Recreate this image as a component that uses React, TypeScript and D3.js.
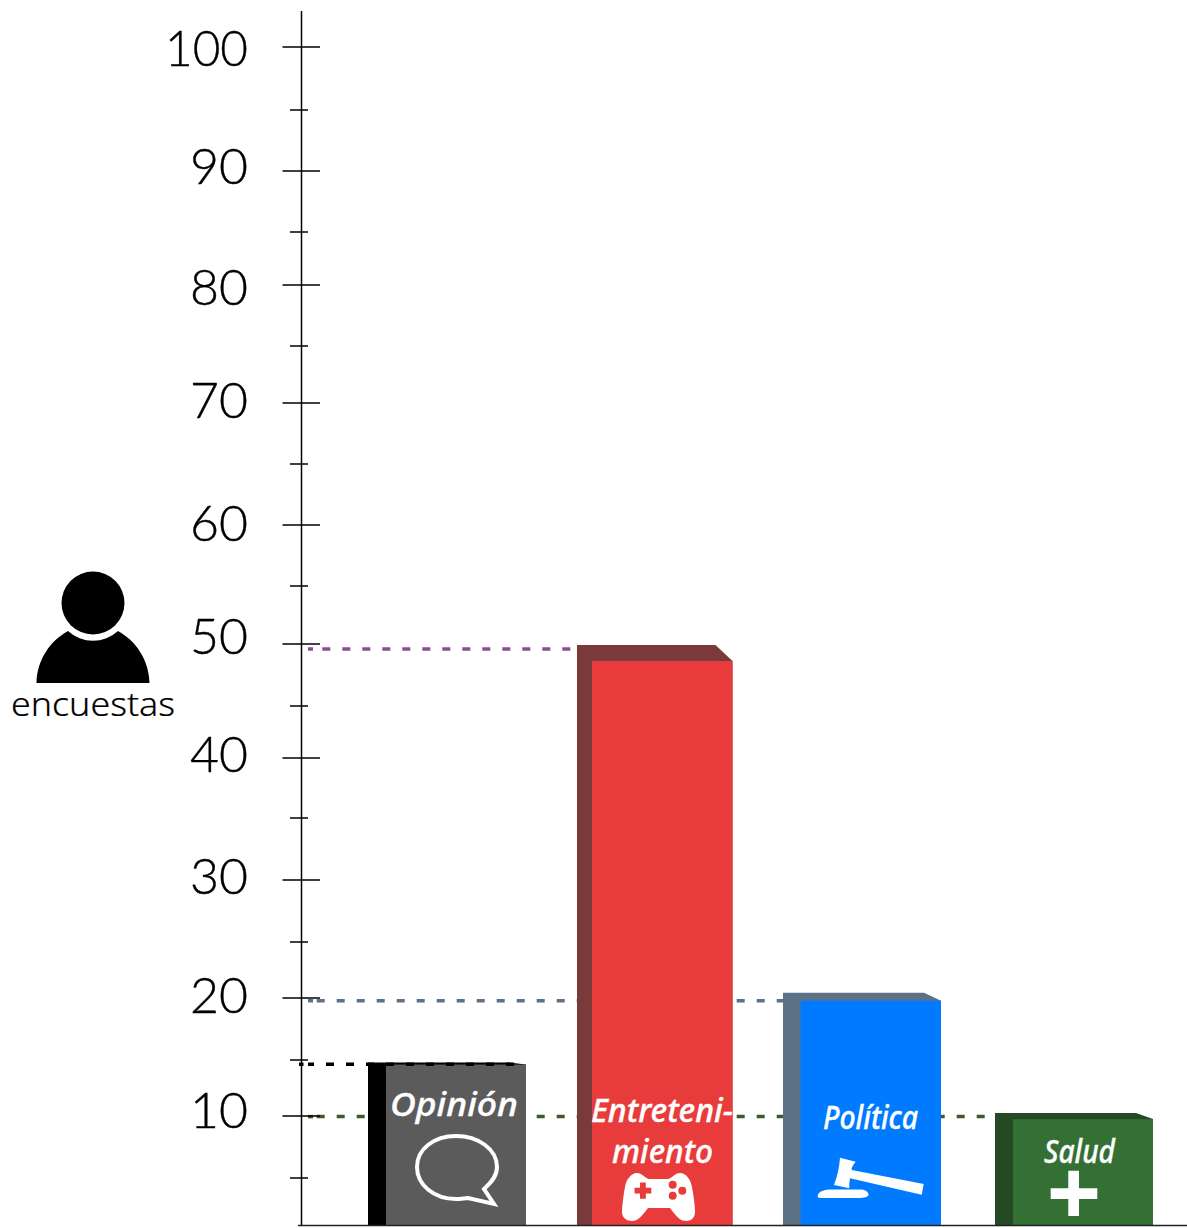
import React from "react";
import * as d3 from "d3";

const WIDTH = 1187;
const HEIGHT = 1228;

// Survey results per topic
const categories = ["Opinión", "Entretenimiento", "Política", "Salud"];
const values = [14.62, 49.6, 19.78, 9.95];
const frontColors = ["#5b5b5b", "#e83c3c", "#007bff", "#347033"];
const backColors = ["#000000", "#7a3a3a", "#5c7086", "#234a22"];
const guideColors = ["#000000", "#8e4b9b", "#5c7086", "#3f5a2a"];

// Vertical depth of each bar's extruded top, in pixels above and below the value line
const backRise = [1.7, 4, 8, 3.5];
const frontDrop = [0.3, 12, 0, 2.5];

// The hand-spaced axis: tick values and where each one falls
const tickValues = [0, 5, 10, 15, 20, 25, 30, 35, 40, 45, 50, 55, 60, 65, 70, 75, 80, 85, 90, 95, 100];
const tickPositions = [1225, 1178, 1116, 1060, 998, 942, 880, 818, 758, 706, 644, 586, 525, 464, 403, 346, 285, 232, 171, 110, 47];
const barLefts = [368, 577, 783, 995];
const frontLefts = [386, 592, 800.5, 1013];
const barRights = [526, 732.5, 941, 1153];

// Printed axis numbers and their baselines
const axisLabels = [100, 90, 80, 70, 60, 50, 40, 30, 20, 10];
const axisLabelBaselines = [66, 184, 305, 418, 541, 654, 772, 894, 1013, 1128];

// Where the repeating dash pattern of each guide begins
const dashStarts = [326, 322.3, 316.7, 316.7];

const y = d3.scaleLinear().domain(tickValues).range(tickPositions);
const xBack = d3.scaleOrdinal<string, number>().domain(categories).range(barLefts);
const xFront = d3.scaleOrdinal<string, number>().domain(categories).range(frontLefts);
const xRight = d3.scaleOrdinal<string, number>().domain(categories).range(barRights);

const AXIS_X = 301.5;
const DASH = 8;
const DASH_PERIOD = 20;
const LABEL_FONT = "'Noto Sans', 'Open Sans', sans-serif";
const TICK_FONT = "Lato, 'Open Sans', sans-serif";

function Guide({ index, x2, leadIn }: { index: number; x2: number; leadIn?: boolean }) {
  const gy = y(values[index]);
  const x1 = 308;
  const offset = ((x1 - dashStarts[index]) % DASH_PERIOD + DASH_PERIOD) % DASH_PERIOD;
  return (
    <g stroke={guideColors[index]} strokeWidth={3.5}>
      {leadIn && <line x1={299} x2={303.5} y1={gy} y2={gy} />}
      <line x1={x1} x2={x1 + 5} y1={gy} y2={gy} />
      <line
        x1={x1 + 5}
        x2={x2}
        y1={gy}
        y2={gy}
        strokeDasharray={`${DASH} ${DASH_PERIOD - DASH}`}
        strokeDashoffset={offset + 5}
      />
    </g>
  );
}

function BarLabel({ x, y: by, text, width }: { x: number; y: number; text: string; width: number }) {
  return (
    <text
      x={x}
      y={by}
      fill="#fff"
      stroke="#fff"
      strokeWidth={0.35}
      fontFamily={LABEL_FONT}
      fontStyle="italic"
      fontWeight={500}
      fontSize={32}
      textLength={width}
      lengthAdjust="spacingAndGlyphs"
    >
      {text}
    </text>
  );
}

export default function App() {
  const bottom = y(0);
  return (
    <svg
      width={WIDTH}
      height={HEIGHT}
      viewBox={`0 0 ${WIDTH} ${HEIGHT}`}
      style={{ position: "absolute", left: 0, top: 0, background: "#fff" }}
    >
      {/* Dashed guides from the axis to each bar */}
      {categories.map((c, i) =>
        i === 0 ? null : <Guide key={c} index={i} x2={xBack(c)} />
      )}

      {/* Extruded bars */}
      {categories.map((c, i) => {
        const yv = y(values[i]);
        const top = yv - backRise[i];
        const frontTop = yv + frontDrop[i];
        const bevel = xRight(c) - 17;
        return (
          <g key={c}>
            <path
              d={`M${xBack(c)},${bottom}V${top}H${bevel}L${xRight(c)},${frontTop}V${bottom}Z`}
              fill={backColors[i]}
            />
            <rect
              x={xFront(c)}
              y={frontTop}
              width={xRight(c) - xFront(c)}
              height={bottom - frontTop}
              fill={frontColors[i]}
            />
          </g>
        );
      })}

      {/* The first guide runs across the top of its bar */}
      <Guide index={0} x2={xRight(categories[0])} leadIn />

      {/* Axis */}
      <line x1={AXIS_X} x2={AXIS_X} y1={11} y2={bottom} stroke="#000" strokeWidth={1.5} />
      <line x1={298} x2={WIDTH} y1={bottom + 0.5} y2={bottom + 0.5} stroke="#222" strokeWidth={1.5} />
      {tickValues.slice(1).map((t) => {
        const major = t % 10 === 0;
        return (
          <line
            key={t}
            x1={major ? 282.5 : 290}
            x2={major ? 320 : 308}
            y1={y(t)}
            y2={y(t)}
            stroke="#000"
            strokeWidth={1.5}
          />
        );
      })}
      {axisLabels.map((t, i) => (
        <text
          key={t}
          x={248}
          y={axisLabelBaselines[i]}
          textAnchor="end"
          fontFamily={TICK_FONT}
          fontWeight={300}
          fontSize={50}
          fill="#000"
          stroke="#000"
          strokeWidth={0.4}
          textLength={t === 100 ? 83 : undefined}
          lengthAdjust="spacingAndGlyphs"
        >
          {t}
        </text>
      ))}

      {/* Respondent figure */}
      <circle cx={93} cy={603} r={31.5} fill="#000" />
      <path
        d="M36.5,683C37,660,50,641,68,631A37,37,0,0,0,118,631C136,641,149,660,149.5,683Z"
        fill="#000"
      />
      <text
        x={11}
        y={716}
        fontFamily="'Noto Sans', sans-serif"
        fontWeight={300}
        fontSize={33}
        fill="#000"
        stroke="#000"
        strokeWidth={0.2}
        textLength={164}
        lengthAdjust="spacingAndGlyphs"
      >
        encuestas
      </text>

      {/* Bar titles */}
      <BarLabel x={390} y={1116} text="Opinión" width={128} />
      <BarLabel x={591} y={1122} text="Entreteni-" width={142} />
      <BarLabel x={612} y={1163} text="miento" width={101} />
      <BarLabel x={823} y={1129} text="Política" width={95} />
      <BarLabel x={1044} y={1163} text="Salud" width={71} />

      {/* Speech bubble */}
      <path
        d="M484,1189C493,1181,497,1175,497,1167C497,1149,478,1136,456,1136C434,1136,417,1149,417,1167C417,1185,434,1199,456,1199C461,1199,465,1198,468,1198L494,1204Z"
        fill="none"
        stroke="#fff"
        strokeWidth={4}
      />

      {/* Game controller */}
      <path
        d="M637,1173C631,1173,626,1180,625,1187C623,1198,622,1207,622,1212C622,1218,627,1221,632,1221C637,1221,640,1218,645,1212L648,1208L670,1208L673,1212C678,1218,681,1221,686,1221C691,1221,695,1218,695,1212C695,1207,694,1198,692,1187C691,1180,686,1173,680,1173C675,1173,672,1178,668,1179L649,1179C645,1178,642,1173,637,1173Z"
        fill="#fff"
      />
      <path d="M634.5,1187.8H640V1182.5H645.8V1187.8H651.3V1193.5H645.8V1198.8H640V1193.5H634.5Z" fill="#e83c3c" />
      <circle cx={672.7} cy={1184.7} r={4} fill="#e83c3c" />
      <circle cx={682.3} cy={1190.7} r={4} fill="#e83c3c" />
      <circle cx={672.7} cy={1195.7} r={4} fill="#e83c3c" />

      {/* Gavel */}
      <path d="M840,1157.7L855.7,1161.7Q851,1167,851.7,1170L923.7,1184L921.7,1194.7L850,1178.3Q849,1183,849.3,1188.3L834,1185Q839,1172,840,1157.7Z" fill="#fff" />
      <path d="M817.7,1196C818,1191,825,1189.5,832,1189.5H860C866,1189.5,868.5,1192,868.5,1195C868.5,1197.5,862,1198,855,1198H822C818,1198,817.7,1197,817.7,1196Z" fill="#fff" />

      {/* Cross */}
      <path d="M1068.3,1170.7H1079V1188.3H1097.3V1199H1079V1216H1068.3V1199H1050.7V1188.3H1068.3Z" fill="#fff" />
    </svg>
  );
}
